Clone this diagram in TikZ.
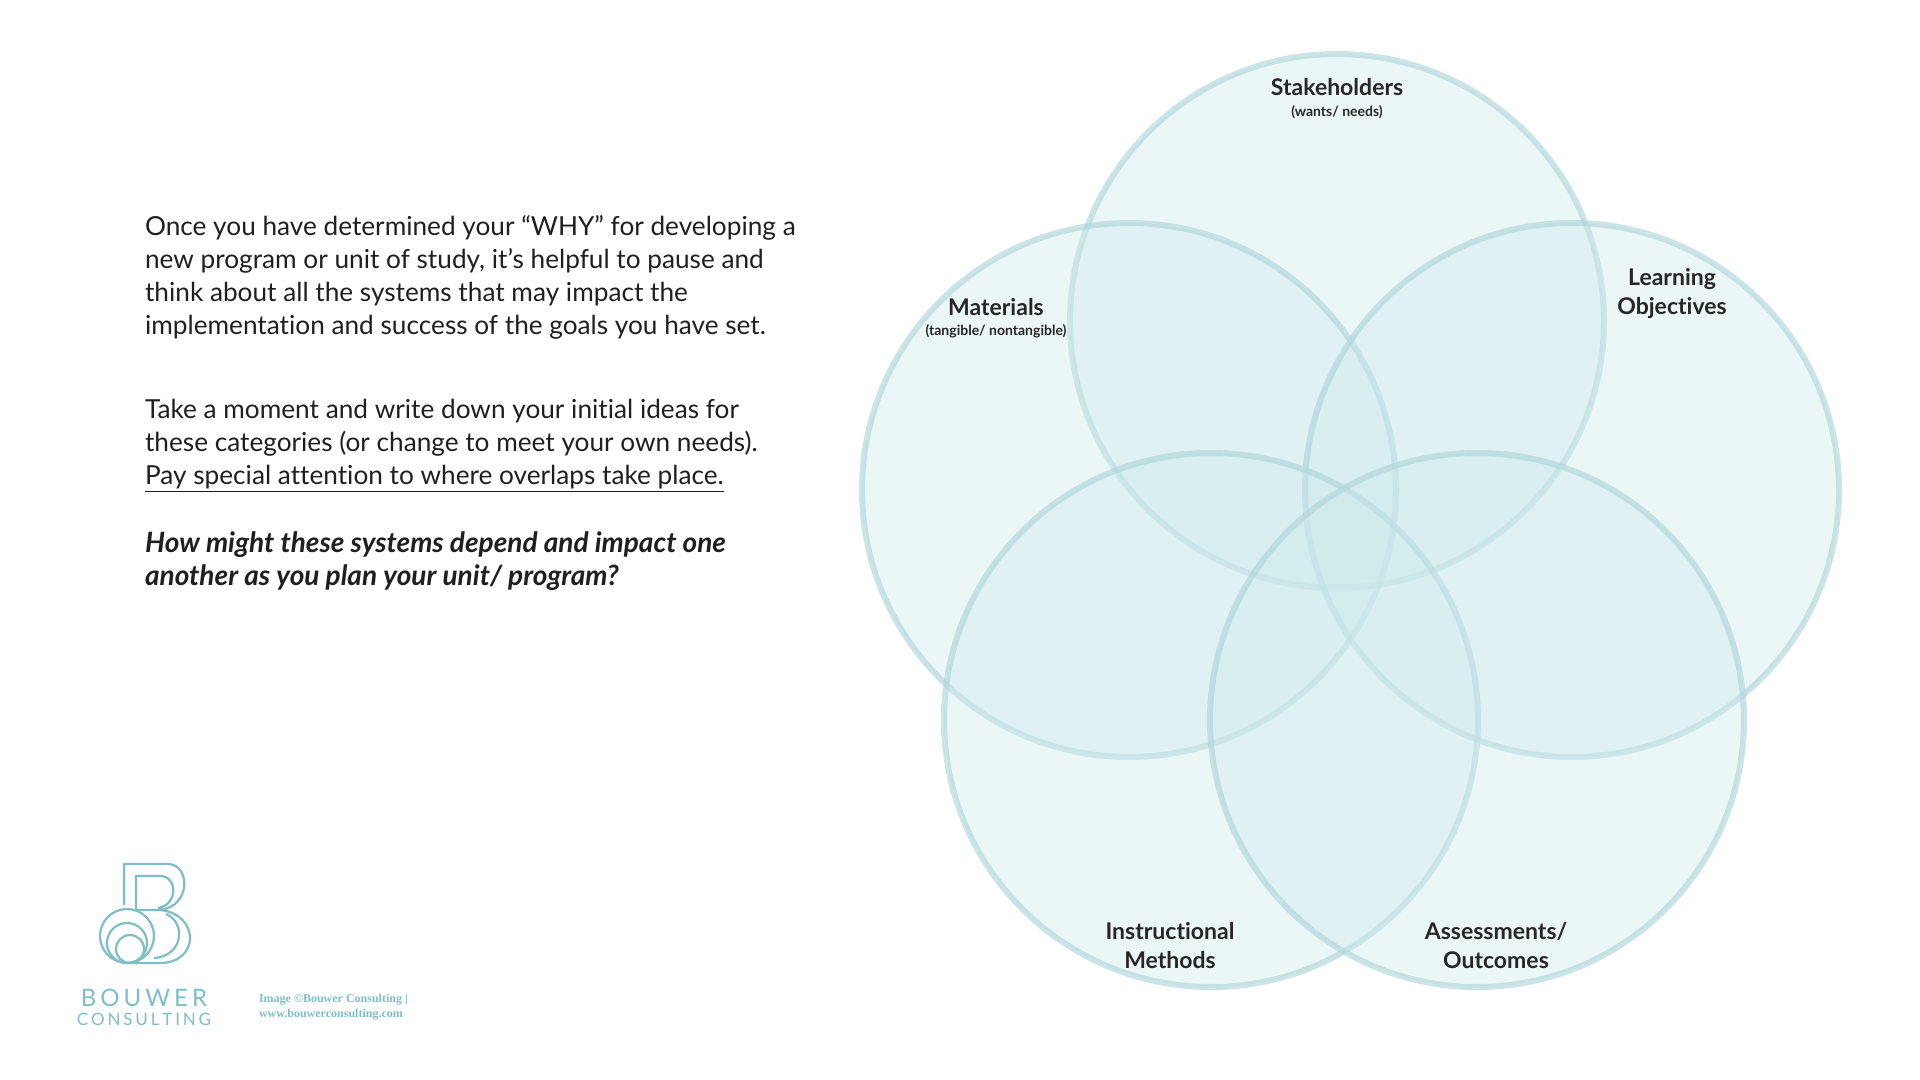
\documentclass[tikz,border=0pt]{standalone}
\usepackage{fontspec}
\setmainfont{Lato}[Ligatures={NoCommon}]
\newfontfamily\capfont{Liberation Serif}
\usepackage{tikz}

\definecolor{ringline}{RGB}{176,214,218}
\definecolor{ringfill}{RGB}{205,233,236}
\definecolor{logoteal}{RGB}{126,190,198}

\tikzset{
  ring/.style={draw=ringline, line width=3pt, fill=ringfill, fill opacity=0.4, draw opacity=0.65},
  tag/.style={font=\fontsize{11.5}{14.5}\selectfont\bfseries, align=center, text=black!85},
  subtag/.style={font=\fontsize{7}{8}\selectfont\bfseries, text=black!85},
  para/.style={anchor=north west, align=left, font=\fontsize{13.1}{16.5}\selectfont, text=black!88}
}

\begin{document}
\begin{tikzpicture}[x=0.5pt, y=-0.5pt]
        \useasboundingbox (0,0) rectangle (1920,1080);

        % the five rings
        \filldraw[ring] (1337,321) circle (267);
        \filldraw[ring] (1129,490) circle (267);
        \filldraw[ring] (1572,490) circle (267);
        \filldraw[ring] (1211,720) circle (267);
        \filldraw[ring] (1477,720) circle (267);

        \node[tag] (stake) at (1337,87) {Stakeholders};
        \node[subtag] (stakesub) at (1337,112) {(wants/ needs)};
        \node[tag] (mat) at (996,307) {Materials};
        \node[subtag] (matsub) at (996,331) {(tangible/ nontangible)};
        \node[tag] (learn) at (1672,294) {Learning\\Objectives};
        \node[tag] (instr) at (1170,946) {Instructional\\Methods};
        \node[tag] (assess) at (1496,946) {Assessments/\\Outcomes};

        %%%%%%%%%%%%%%%%%%%%%%%%%%%%%%
        \node[para] (intro) at (138,208) {Once you have determined your “WHY” for developing a\\
        new program or unit of study, it’s helpful to pause and\\
        think about all the systems that may impact the\\
        implementation and success of the goals you have set.};
        \node[para] (task) at (138,392) {Take a moment and write down your initial ideas for\\
        these categories (or change to meet your own needs).\\
        \underline{Pay special attention to where overlaps take place.}};
        \node[para, font=\fontsize{14}{16.5}\selectfont\bfseries\itshape] (ask) at (138,525)
        {How might these systems depend and impact one\\another as you plan your unit/ program?};

        %%%%%%%%%%%%%%%%%%%%%%%%%%%%%%
        \draw[logoteal, line width=1.1pt] (124,905) -- (124,864) -- (168,864)
          .. controls (190,864) and (192,906) .. (160,910) -- (136,910) -- (136,876) -- (160,876)
          .. controls (178,876) and (178,905) .. (158,908);
        \draw[logoteal, line width=1.1pt] (160,910)
          .. controls (200,914) and (200,963) .. (160,963) -- (128,963);
        \draw[logoteal, line width=1.1pt] (166,914)
          .. controls (186,922) and (184,956) .. (154,958);
        \draw[logoteal, line width=1.1pt] (127,936) circle (27);
        \draw[logoteal, line width=1.1pt] (127,943) circle (20);
        \draw[logoteal, line width=1.1pt] (130,949) circle (14);
        \node[text=logoteal, font=\fontsize{12}{12}\selectfont] (brand) at (144,998) {B\,O\,U\,W\,E\,R};
        \node[text=logoteal, font=\fontsize{8.5}{8.5}\selectfont] (brand2) at (144,1019) {C\,O\,N\,S\,U\,L\,T\,I\,N\,G};
        \node[anchor=west, align=left, text=logoteal, font=\capfont\fontsize{6}{7.5}\selectfont\bfseries] (credit) at (252,1007)
        {Image ©Bouwer Consulting |\\www.bouwerconsulting.com};
    \end{tikzpicture}
\end{document}
